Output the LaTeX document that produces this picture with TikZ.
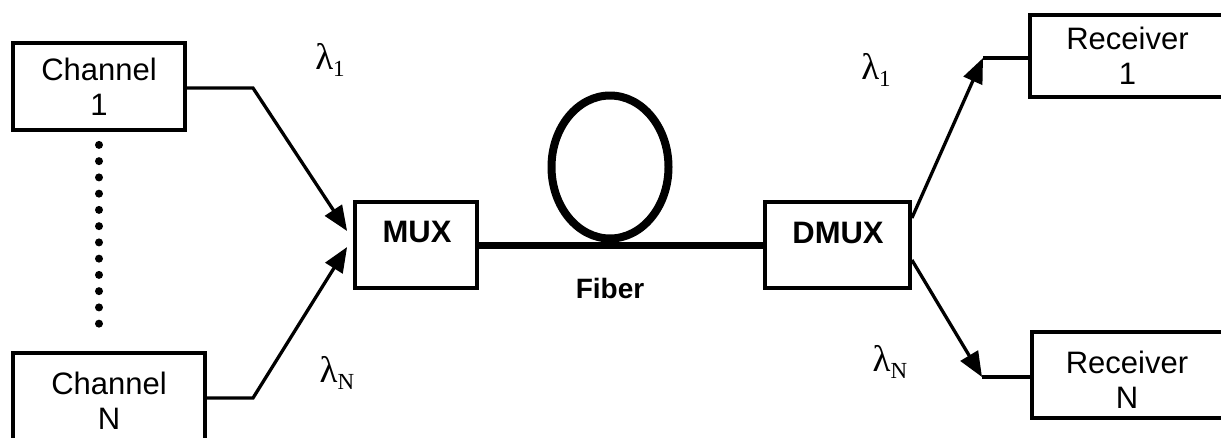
\documentclass[tikz,border=0pt]{standalone}
\usepackage{fontspec}
\setmainfont{Liberation Sans}
\newfontfamily\lamfont{Liberation Serif}
\usetikzlibrary{arrows.meta,shapes.geometric}
\tikzset{
  box/.style={draw, line width=3.8pt, inner sep=0pt, align=center,
    font=\fontsize{31}{35}\selectfont},
  txt/.style={inner sep=0pt, align=center, font=\fontsize{31}{35}\selectfont},
  boldlbl/.style={inner sep=0pt, font=\fontsize{31}{35}\selectfont\bfseries},
  lam/.style={inner sep=0pt, font=\fontsize{37}{37}\selectfont\lamfont},
  conn/.style={line width=3.3pt},
  arr/.style={conn, -{Triangle[length=25pt,width=20pt]}},
  fiber/.style={line width=7pt},
}
\newcommand{\lamsub}[1]{λ\raisebox{-0.2em}{\fontsize{23}{23}\selectfont #1}}
\begin{document}
\begin{tikzpicture}[x=1pt,y=-1pt]
\useasboundingbox (0,0) rectangle (1221,437);
% boxes
\node[box, minimum width=172pt, minimum height=87pt] (ch1) at (99,86.5) {Channel\\1};
\node[box, minimum width=192pt, minimum height=96pt] (chN) at (109,401) {Channel\\N};
\node[box, minimum width=122pt, minimum height=86pt] (mux) at (416,245) {};
\node[boldlbl] (muxl) at (417,232) {MUX};
\node[box, minimum width=145pt, minimum height=86pt] (dmux) at (837.5,245) {};
\node[boldlbl] (dmuxl) at (838,233) {DMUX};
\node[box, minimum width=195pt, minimum height=82pt] (rx1) at (1127.5,56) {Receiver\\1};
\node[box, minimum width=193pt, minimum height=86pt] (rxN) at (1128.5,375) {};
\node[txt] (rxNl) at (1127,380) {Receiver\\N};
% fiber
\node[draw, ellipse, line width=8pt, inner sep=0pt, minimum width=117pt, minimum height=143pt] (loop) at (610,167) {};
\draw[fiber] (mux.east) -- (dmux.west);
\node[inner sep=0pt, font=\fontsize{28}{30}\selectfont\bfseries] (fib) at (610,288) {Fiber};
% dots
\draw[line width=8pt, line cap=round, dash pattern=on 0pt off 16.25pt,
  shorten <=13pt, shorten >=15pt] (ch1.south) -- (ch1.south |- chN.north);
% input connectors
\coordinate (k1) at (253,88);
\coordinate (kN) at (253,398);
\draw[arr] (ch1.east |- k1) -- (k1) -- ([xshift=-6pt,yshift=14pt]mux.west);
\draw[arr] (chN.east |- kN) -- (kN) -- ([xshift=-6pt,yshift=-2pt]mux.west);
% output connectors
\coordinate (r1k) at (983,58);
\coordinate (rNk) at (982,377);
\draw[arr] ([yshift=27pt]dmux.east) -- (r1k);
\draw[conn] (r1k) -- (r1k -| rx1.west);
\draw[arr] ([yshift=-15pt]dmux.east) -- (rNk);
\draw[conn] (rNk) -- (rNk -| rxN.west);
% labels
\node[lam] (l1a) at (330,60) {\lamsub{1}};
\node[lam] (lNa) at (337,373) {\lamsub{N}};
\node[lam] (l1b) at (876,70) {\lamsub{1}};
\node[lam] (lNb) at (890,362) {\lamsub{N}};
\end{tikzpicture}
\end{document}
